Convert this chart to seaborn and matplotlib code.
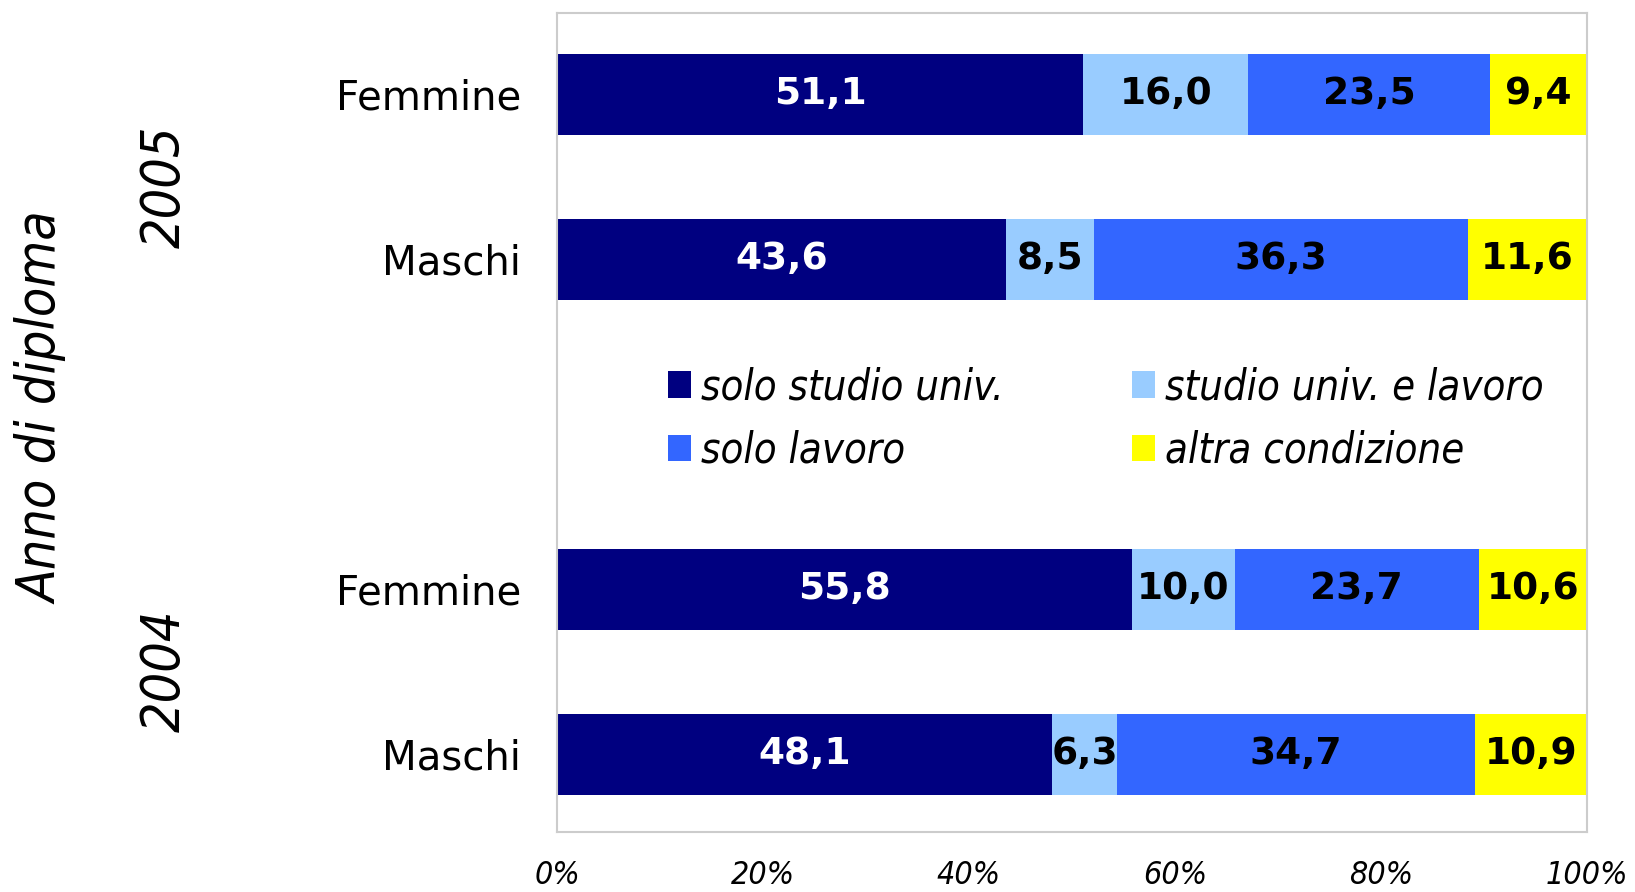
import numpy as np
import pandas as pd
import matplotlib
matplotlib.use("Agg")
import matplotlib.pyplot as plt
from matplotlib.patches import Patch
import seaborn as sns

# data (percent)
groups = ["Femmine", "Maschi", "Femmine", "Maschi"]
years = ["2005", "2005", "2004", "2004"]
categories = ["solo studio univ.", "studio univ. e lavoro", "solo lavoro", "altra condizione"]
solo_studio = [51.1, 43.6, 55.8, 48.1]
studio_lavoro = [16.0, 8.5, 10.0, 6.3]
solo_lavoro = [23.5, 36.3, 23.7, 34.7]
altra = [9.4, 11.6, 10.6, 10.9]
x_ticks = [0, 20, 40, 60, 80, 100]

colors = ["#000080", "#99CCFF", "#3366FF", "#FFFF00"]
text_colors = ["white", "black", "black", "black"]
row_pos = [0, 1, 3, 4]  # gap at 2 holds the legend

sns.set_theme(style="white")
plt.rcParams["font.family"] = ["DejaVu Sans"]
plt.rcParams["text.color"] = "black"
plt.rcParams["xtick.color"] = "black"
plt.rcParams["ytick.color"] = "black"

series = [solo_studio, studio_lavoro, solo_lavoro, altra]
df = pd.DataFrame({"pos": row_pos, "gruppo": groups, "anno": years})
for name, vals in zip(categories, series):
    df[name] = vals
cum = df[categories].cumsum(axis=1)

fig = plt.figure(figsize=(16.35, 8.92), dpi=100)
ax = fig.add_axes([557 / 1635, 1 - 832 / 892, 1030 / 1635, 819.5 / 892])

# stacked bars: draw cumulative totals from the outermost segment inwards
for name, col in reversed(list(zip(categories, colors))):
    sns.barplot(x=cum[name], y=df["pos"], orient="h", native_scale=True,
                width=0.49, color=col, linewidth=0, saturation=1,
                errorbar=None, ax=ax)

for name, tc in zip(categories, text_colors):
    for i in range(len(df)):
        v = df[name].iloc[i]
        xc = cum[name].iloc[i] - v / 2
        ax.text(xc, df["pos"].iloc[i], f"{v:.1f}".replace(".", ","),
                ha="center", va="center", color=tc, fontsize=27,
                fontweight="bold")

ax.set_xlim(0, 100)
ax.set_ylim(4.47, -0.494)
ax.set_xticks(x_ticks)
ax.set_xticklabels([f"{t}%" for t in x_ticks], fontsize=23, style="italic",
                   fontstretch="condensed")
ax.set_yticks(row_pos)
ax.set_yticklabels(groups, fontsize=29)
ax.tick_params(axis="y", length=0, pad=26)
ax.tick_params(axis="x", length=0, pad=20)
ax.set_xlabel("")
ax.set_ylabel("")
for sp in ax.spines.values():
    sp.set_visible(True)
    sp.set_color("#CCCCCC")
    sp.set_linewidth(1.5)

handles = [Patch(facecolor=c, edgecolor="none") for c in colors]
order = [0, 2, 1, 3]
leg = ax.legend([handles[i] for i in order], [categories[i] for i in order],
                ncol=2, loc="upper left", frameon=False,
                bbox_to_anchor=(668 / 1635, 1 - 366 / 892),
                bbox_transform=fig.transFigure, borderpad=0, borderaxespad=0,
                handlelength=0.55, handleheight=0.6, handletextpad=0.25,
                columnspacing=3.07, labelspacing=0.52,
                prop={"size": 30, "style": "italic", "stretch": "condensed"})

fig.text(165 / 1635, 1 - 187 / 892, "2005", rotation=90, ha="center", va="center",
         fontsize=38.5, style="italic", fontstretch="condensed")
fig.text(165 / 1635, 1 - 671 / 892, "2004", rotation=90, ha="center", va="center",
         fontsize=38.5, style="italic", fontstretch="condensed")
fig.text(43 / 1635, 1 - 408 / 892, "Anno di diploma", rotation=90, ha="center",
         va="center", fontsize=38.5, style="italic", fontstretch="condensed")

fig.savefig("out.png", dpi=100)
